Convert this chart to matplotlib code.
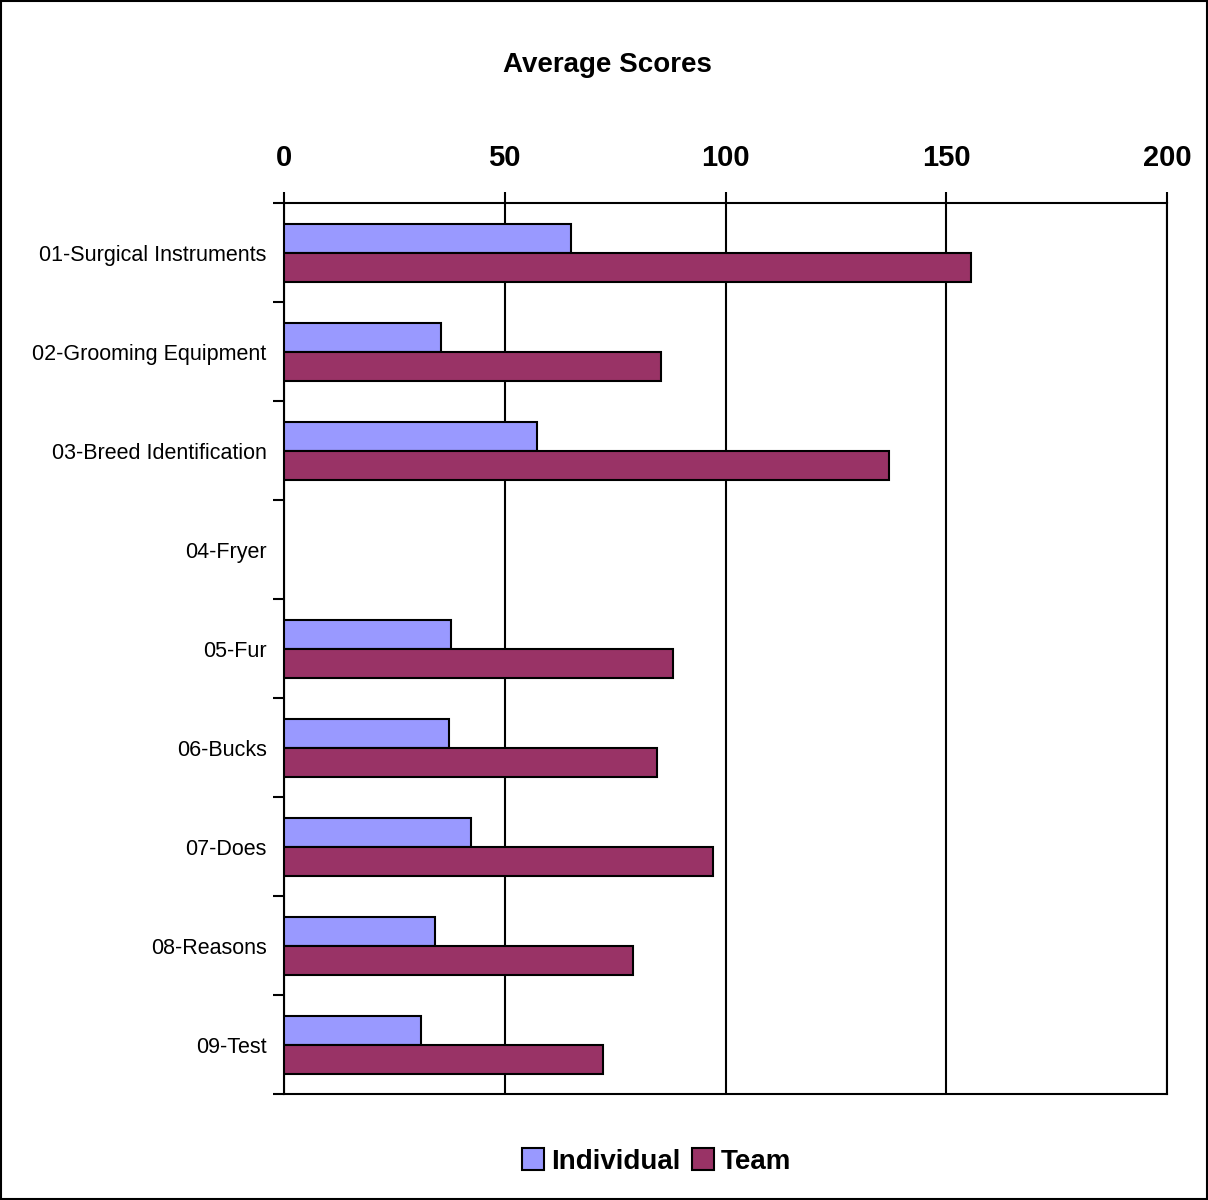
import numpy as np
import matplotlib.pyplot as plt
from matplotlib.patches import Rectangle

# --- Data ---
categories = ["01-Surgical Instruments", "02-Grooming Equipment", "03-Breed Identification",
              "04-Fryer", "05-Fur", "06-Bucks", "07-Does", "08-Reasons", "09-Test"]
individual = [65.0, 35.6, 57.3, np.nan, 37.8, 37.4, 42.4, 34.2, 31.0]
team = [155.6, 85.4, 137.0, np.nan, 88.1, 84.5, 97.2, 79.0, 72.3]
x_ticks = [0, 50, 100, 150, 200]

plt.rcParams['font.family'] = ['Liberation Sans', 'DejaVu Sans']

fig = plt.figure(figsize=(12.08, 12), dpi=100)
ax = fig.add_axes([0.2351, 0.0883, 0.7310, 0.7425])

y = np.arange(len(categories))
h = 0.293
ax.barh(y - h / 2, individual, height=h, color='#9999FF', edgecolor='black',
        linewidth=1.5, label='Individual', zorder=3)
ax.barh(y + h / 2, team, height=h, color='#993366', edgecolor='black',
        linewidth=1.5, label='Team', zorder=3)

ax.set_xlim(0, 200)
ax.set_ylim(len(categories) - 0.5, -0.5)

# x axis on top
ax.xaxis.tick_top()
ax.set_xticks(x_ticks)
ax.set_xticklabels([str(t) for t in x_ticks], fontsize=21, fontweight='bold')
ax.tick_params(axis='x', direction='out', length=8, width=1.5, pad=14)
ax.grid(axis='x', color='black', linewidth=1.5, zorder=1)

# y ticks at category boundaries, labels at centers
ax.set_yticks(np.arange(-0.5, len(categories)), minor=False)
ax.set_yticklabels([])
ax.set_yticks(y, minor=True)
ax.set_yticklabels(categories, minor=True, fontsize=15.5)
ax.tick_params(axis='y', which='major', direction='out', length=8, width=1.5)
ax.tick_params(axis='y', which='minor', length=0, pad=12.5)

for s in ax.spines.values():
    s.set_linewidth(1.5)

fig.text(0.5025, 0.946, 'Average Scores', ha='center', va='center',
         fontsize=20, fontweight='bold')

leg = fig.legend(loc='center', bbox_to_anchor=(0.5435, 0.032), ncol=2,
                 frameon=False, prop={'size': 20, 'weight': 'bold'},
                 handlelength=0.8, handleheight=0.8, handletextpad=0.25,
                 columnspacing=0.4)

# outer border
fig.patches.append(Rectangle((0.0005, 0.0005), 0.999, 0.999, transform=fig.transFigure,
                             fill=False, edgecolor='black', linewidth=1.5))

fig.savefig('out.png', dpi=100)
